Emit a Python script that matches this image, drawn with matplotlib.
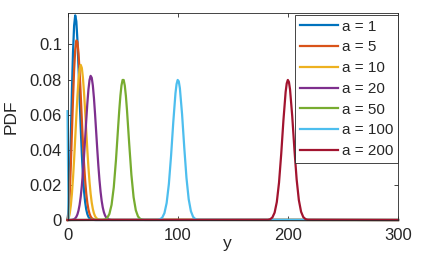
import matplotlib
matplotlib.use("Agg")
import matplotlib.pyplot as plt

# ---- data ----
labels = ["a = 1", "a = 5", "a = 10", "a = 20", "a = 50", "a = 100", "a = 200"]

x_a1 = [0, 1, 2, 3, 4, 5, 6, 7, 8, 9, 10, 11, 12, 13, 14, 15, 16, 17, 18, 19, 20, 22, 25, 300]
y_a1 = [0, 0.00613, 0.02313, 0.04715, 0.07301, 0.09551, 0.1107, 0.11658, 0.11324, 0.1025,
        0.08698, 0.06951, 0.05252, 0.03762, 0.0256, 0.0166, 0.01025, 0.00603, 0.00339,
        0.00182, 0.00093, 0.0002, 0, 0]

x_a5 = [0, 1, 2, 3, 4, 5, 6, 7, 8, 9, 10, 11, 12, 13, 14, 15, 16, 17, 18, 19, 20, 21, 22, 24, 26, 300]
y_a5 = [0, 0.00382, 0.01468, 0.03088, 0.04994, 0.06899, 0.08534, 0.09685, 0.10229, 0.10144,
        0.09501, 0.0844, 0.07128, 0.05736, 0.04405, 0.03231, 0.0227, 0.01523, 0.00978,
        0.00602, 0.00355, 0.002, 0.00108, 0.00027, 0.00005, 0]

x_a10 = [0, 1, 2, 3, 4, 5, 6, 7, 8, 9, 10, 11, 12, 13, 14, 15, 16, 17, 18, 19, 20,
         21, 22, 23, 24, 25, 26, 27, 28, 30, 300]
y_a10 = [0, 0.00087, 0.00354, 0.00817, 0.0149, 0.02375, 0.03447, 0.04648, 0.05883, 0.07034,
         0.07977, 0.08603, 0.08838, 0.08664, 0.08111, 0.07259, 0.06215, 0.05091, 0.03993,
         0.03, 0.02159, 0.0149, 0.00985, 0.00626, 0.00379, 0.00221, 0.00124, 0.00067,
         0.00034, 0.0001, 0]

x_a20 = [0, 2, 4, 6, 7, 8, 9, 10, 11, 12, 13, 14, 15, 16, 17, 18, 19, 20, 21, 22, 23, 24,
         25, 26, 27, 28, 29, 30, 31, 32, 33, 34, 35, 36, 38, 40, 300]
y_a20 = [0, 0.00001, 0.0001, 0.00047, 0.00095, 0.00179, 0.00319, 0.0054, 0.00868, 0.01331,
         0.01947, 0.02719, 0.03629, 0.04635, 0.05665, 0.06629, 0.0743, 0.07979, 0.08212,
         0.08102, 0.07665, 0.06953, 0.06049, 0.05049, 0.04043, 0.03105, 0.0229, 0.0162,
         0.01099, 0.00717, 0.00449, 0.00269, 0.00155, 0.00086, 0.00023, 0.00005, 0]

x_a50 = [0, 32, 34, 36, 38, 40, 42, 44, 46, 47, 48, 49, 50, 51, 52, 53, 54, 56, 58, 60,
         62, 64, 66, 68, 70, 300]
y_a50 = [0, 0.00008, 0.00032, 0.00114, 0.0034, 0.00864, 0.01863, 0.03418, 0.0533, 0.06265,
         0.0707, 0.07665, 0.07979, 0.07977, 0.0766, 0.07065, 0.06258, 0.0435, 0.02573,
         0.01296, 0.00556, 0.00202, 0.00063, 0.00017, 0.00004, 0]

x_a100 = [0, 1, 82, 84, 86, 88, 90, 92, 94, 96, 98, 99, 100, 101, 102, 104, 106, 108, 110,
          112, 114, 116, 118, 300]
y_a100 = [0.062, 0, 0.0001, 0.0004, 0.00136, 0.00394, 0.00972, 0.02041, 0.03651, 0.05562,
          0.07218, 0.07743, 0.07979, 0.07899, 0.07512, 0.06026, 0.04117, 0.02395, 0.01188,
          0.00502, 0.0018, 0.00055, 0.00014, 0]

x_a200 = [0, 182, 184, 186, 188, 190, 192, 194, 196, 198, 199, 200, 201, 202, 204, 206,
          208, 210, 212, 214, 216, 218, 300]
y_a200 = [0, 0.0001, 0.00044, 0.00147, 0.00421, 0.01026, 0.02129, 0.03767, 0.05678, 0.07291,
          0.07782, 0.07979, 0.0786, 0.07439, 0.0591, 0.04001, 0.02307, 0.01134, 0.00475,
          0.00169, 0.00052, 0.00013, 0]

xs = [x_a1, x_a5, x_a10, x_a20, x_a50, x_a100, x_a200]
ys = [y_a1, y_a5, y_a10, y_a20, y_a50, y_a100, y_a200]

x_ticks = [0, 100, 200, 300]
x_ticklabels = ["0", "100", "200", "300"]
y_ticks = [0, 0.02, 0.04, 0.06, 0.08, 0.1]
y_ticklabels = ["0", "0.02", "0.04", "0.06", "0.08", "0.1"]

colors = ["#0072BD", "#D95319", "#EDB120", "#7E2F8E", "#77AC30", "#4DBEEE", "#A2142F"]

# ---- figure ----
plt.rcParams["font.family"] = ["Liberation Sans", "DejaVu Sans"]
fig = plt.figure(figsize=(4.43, 2.56), dpi=100)
ax = fig.add_axes([67.5 / 443, 1 - 220 / 256, (398 - 67.5) / 443, (220 - 12.7) / 256])

for xv, yv, c, lab in zip(xs, ys, colors, labels):
    ax.plot(xv, yv, color=c, lw=1.6, label=lab, clip_on=False, solid_joinstyle="round")

ax.set_xlim(0, 300)
ax.set_ylim(0, 0.1181)
ax.set_xticks(x_ticks)
ax.set_xticklabels(x_ticklabels)
ax.set_yticks(y_ticks)
ax.set_yticklabels(y_ticklabels)

axc = "#262626"
for s in ax.spines.values():
    s.set_color(axc)
    s.set_linewidth(0.6)
ax.tick_params(direction="in", length=3, width=0.6, color=axc, labelcolor=axc,
               labelsize=12, top=True, right=True)
ax.tick_params(axis="x", pad=6)
ax.tick_params(axis="y", pad=4)

ax.set_xlabel("y", fontsize=12.5, color=axc)
ax.xaxis.set_label_coords(0.483, -0.075)
ax.set_ylabel("PDF", fontsize=12.5, color=axc)
ax.yaxis.label.set_va("center")
ax.yaxis.set_label_coords(-0.172, 0.5)

leg = ax.legend(loc="upper right", bbox_to_anchor=(1.0, 0.988), fontsize=11,
                frameon=True, fancybox=False, borderaxespad=0.0, borderpad=0.3,
                labelspacing=0.44, handlelength=2.5, handletextpad=0.25)
leg.get_frame().set_edgecolor(axc)
leg.get_frame().set_linewidth(0.6)
leg.get_frame().set_alpha(1)
for t in leg.get_texts():
    t.set_color(axc)

fig.savefig("out.png", dpi=100)
